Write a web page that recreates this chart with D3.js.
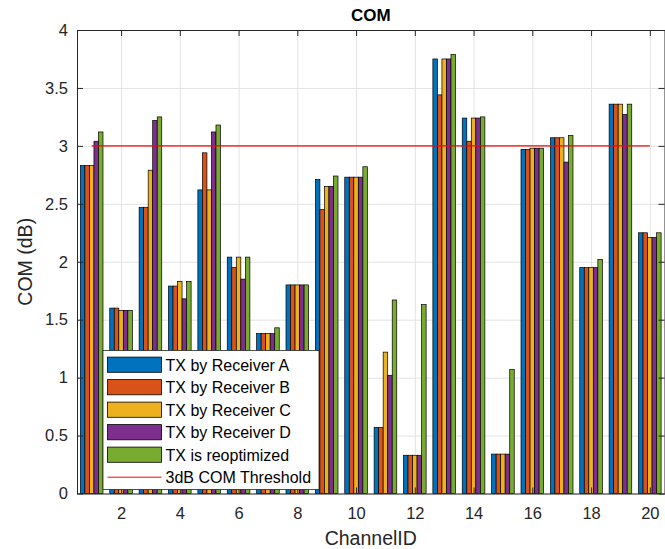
<!DOCTYPE html>
<html>
<head>
<meta charset="utf-8">
<script src="https://cdn.jsdelivr.net/npm/d3@7"></script>
<style>
  body { margin: 0; background: #fff; }
  text { font-family: "Liberation Sans", Arial, sans-serif; }
</style>
</head>
<body>
<div id="part"></div>
<script>

// channels on the x axis
var channels = [1, 2, 3, 4, 5, 6, 7, 8, 9, 10, 11, 12, 13, 14, 15, 16, 17, 18, 19, 20];

// COM values (dB)
var recvA = [2.83, 1.60, 2.47, 1.79, 2.62, 2.04, 1.38, 1.80, 2.71, 2.73, 0.57, 0.33, 3.75, 3.24, 0.34, 2.97, 3.07, 1.95, 3.36, 2.25];
var recvB = [2.83, 1.60, 2.47, 1.79, 2.94, 1.95, 1.38, 1.80, 2.45, 2.73, 0.57, 0.33, 3.44, 3.04, 0.34, 2.97, 3.07, 1.95, 3.36, 2.25];
var recvC = [2.83, 1.58, 2.79, 1.83, 2.62, 2.04, 1.38, 1.80, 2.65, 2.73, 1.22, 0.33, 3.75, 3.24, 0.34, 2.98, 3.07, 1.95, 3.36, 2.21];
var recvD = [3.04, 1.58, 3.22, 1.68, 3.12, 1.85, 1.38, 1.80, 2.65, 2.73, 1.02, 0.33, 3.75, 3.24, 0.34, 2.98, 2.86, 1.95, 3.27, 2.21];
var reopt = [3.12, 1.58, 3.25, 1.83, 3.18, 2.04, 1.43, 1.80, 2.74, 2.82, 1.67, 1.63, 3.79, 3.25, 1.07, 2.98, 3.09, 2.02, 3.36, 2.25];

var seriesNames = ["TX by Receiver A", "TX by Receiver B", "TX by Receiver C", "TX by Receiver D", "TX is reoptimized"];
var seriesColors = ["#0072BD", "#D95319", "#EDB120", "#7E2F8E", "#77AC30"];
var threshold = 3;
var thresholdName = "3dB COM Threshold";

var xTicks = [2, 4, 6, 8, 10, 12, 14, 16, 18, 20];
var yTicks = [0, 0.5, 1, 1.5, 2, 2.5, 3, 3.5, 4];

var allSeries = [recvA, recvB, recvC, recvD, reopt];

var width = 665,
    height = 549;

// plot box (note: "top" is taken by window.top)
var pLeft = 77, pRight = 664.5, pTop = 30, pBottom = 493.5;

var svg = d3.select("#part").append("svg")
    .attr("width", width)
    .attr("height", height);

var x = d3.scaleLinear().domain([0.5, 20.5]).range([pLeft, pRight]);
var y = d3.scaleLinear().domain([0, 4]).range([pBottom, pTop]);

var axisColor = "#262626";
var gridColor = "#e3e3e3";

// grid first, bars sit on top of it
svg.append("g")
    .attr("transform", "translate(0," + pBottom + ")")
    .call(d3.axisBottom(x).tickValues(xTicks).tickSize(-(pBottom - pTop)).tickFormat(""))
    .call(function(g){ g.select(".domain").remove(); })
    .selectAll("line").attr("stroke", gridColor);

svg.append("g")
    .attr("transform", "translate(" + pLeft + ",0)")
    .call(d3.axisLeft(y).tickValues(yTicks).tickSize(-(pRight - pLeft)).tickFormat(""))
    .call(function(g){ g.select(".domain").remove(); })
    .selectAll("line").attr("stroke", gridColor);

// grouped bars, matlab style
var groupWidth = 0.77;
var bw = groupWidth / allSeries.length;

allSeries.forEach(function(vals, s){
    svg.append("g").selectAll("rect")
        .data(vals)
        .enter().append("rect")
        .attr("x", function(d, i){ return x(channels[i] + (s - 2.5) * bw); })
        .attr("y", function(d){ return y(d); })
        .attr("width", x(bw) - x(0))
        .attr("height", function(d){ return y(0) - y(d); })
        .attr("fill", seriesColors[s])
        .attr("stroke", "#000")
        .attr("stroke-width", 0.7);
});

// threshold line
svg.append("line")
    .attr("x1", x(channels[0]))
    .attr("x2", x(channels[channels.length - 1]))
    .attr("y1", y(threshold))
    .attr("y2", y(threshold))
    .attr("stroke", "#ff0000")
    .attr("stroke-width", 1.3);

// axes, ticks pointing inwards
var axes = svg.append("g").attr("class", "axes");

axes.append("g")
    .attr("transform", "translate(0," + pBottom + ")")
    .call(d3.axisBottom(x).tickValues(xTicks).tickSizeInner(-6).tickSizeOuter(0).tickPadding(14));

axes.append("g")
    .attr("transform", "translate(" + pLeft + ",0)")
    .call(d3.axisLeft(y).tickValues(yTicks).tickSizeInner(-6).tickSizeOuter(0).tickPadding(9)
        .tickFormat(function(d){ return d3.format("")(d); }));

axes.append("g")
    .attr("transform", "translate(0," + pTop + ")")
    .call(d3.axisTop(x).tickValues(xTicks).tickSizeInner(-6).tickSizeOuter(0).tickFormat(""));

axes.append("g")
    .attr("transform", "translate(" + pRight + ",0)")
    .call(d3.axisRight(y).tickValues(yTicks).tickSizeInner(-6).tickSizeOuter(0).tickFormat(""));

axes.selectAll(".domain").attr("stroke", axisColor);
axes.selectAll(".tick line").attr("stroke", axisColor);
axes.selectAll(".tick text")
    .attr("fill", axisColor)
    .style("font-size", "16.5px")
    .style("font-family", "'Liberation Sans', Arial, sans-serif");

// title and labels
svg.append("text")
    .attr("x", (pLeft + pRight) / 2)
    .attr("y", 20.5)
    .attr("text-anchor", "middle")
    .style("font-size", "17px")
    .style("font-weight", "bold")
    .attr("fill", "#000")
    .text("COM");

svg.append("text")
    .attr("x", (pLeft + pRight) / 2)
    .attr("y", 545)
    .attr("text-anchor", "middle")
    .style("font-size", "19.5px")
    .attr("fill", axisColor)
    .text("ChannelID");

svg.append("text")
    .attr("transform", "translate(32," + ((pTop + pBottom) / 2) + ") rotate(-90)")
    .attr("text-anchor", "middle")
    .style("font-size", "19.5px")
    .attr("fill", axisColor)
    .text("COM (dB)");

// legend
var legend = svg.append("g");

legend.append("rect")
    .attr("x", 103)
    .attr("y", 350.5)
    .attr("width", 216)
    .attr("height", 139)
    .attr("fill", "#fff")
    .attr("stroke", axisColor)
    .attr("stroke-width", 0.8);

var rowY = function(i){ return 364.7 + i * 22.5; };

seriesNames.forEach(function(name, i){
    legend.append("rect")
        .attr("x", 107.5)
        .attr("y", rowY(i) - 7.6)
        .attr("width", 54)
        .attr("height", 15.2)
        .attr("fill", seriesColors[i])
        .attr("stroke", "#000")
        .attr("stroke-width", 0.8);
    legend.append("text")
        .attr("x", 165.5)
        .attr("y", rowY(i) + 5.8)
        .style("font-size", "16px")
        .attr("fill", "#000")
        .text(name);
});

legend.append("line")
    .attr("x1", 107.5)
    .attr("x2", 161.5)
    .attr("y1", rowY(5))
    .attr("y2", rowY(5))
    .attr("stroke", "#ff0000")
    .attr("stroke-width", 1);

legend.append("text")
    .attr("x", 165.5)
    .attr("y", rowY(5) + 5.8)
    .style("font-size", "16px")
    .attr("fill", "#000")
    .text(thresholdName);

</script>
</body>
</html>
